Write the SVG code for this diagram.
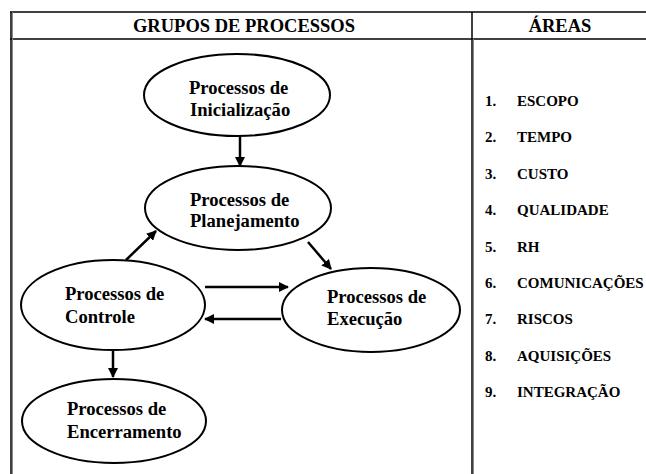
<svg xmlns="http://www.w3.org/2000/svg" width="646" height="474" viewBox="0 0 646 474">
<style>
text{font-family:"Liberation Serif","Times New Roman",Tinos,"DejaVu Serif",serif;font-weight:bold;fill:#000}
.hd{font-size:18.5px;text-anchor:middle}
.nd{font-size:18.6px}
.li{font-size:15px}
.el{fill:#fff;stroke:#000;stroke-width:2}
.tb{stroke:#000;stroke-width:1.5;fill:none}
.cn{stroke:#000;stroke-width:2.5;fill:none}
</style>
<defs>
<marker id="ah" viewBox="0 0 10 10" refX="9" refY="5" markerWidth="4" markerHeight="4" orient="auto" markerUnits="strokeWidth">
<path d="M0,0 L10,5 L0,10 z" fill="#000"/>
</marker>
</defs>
<g id="table">
<line class="tb" x1="10" y1="12" x2="646" y2="12"/>
<line class="tb" x1="10" y1="39" x2="646" y2="39"/>
<line x1="11" y1="12" x2="11" y2="474" stroke="#000" stroke-width="1.5"/>
<line x1="12.5" y1="12" x2="12.5" y2="474" stroke="#888" stroke-width="1"/>
<line x1="472" y1="12" x2="472" y2="474" stroke="#000" stroke-width="1.5"/>
<line x1="473.5" y1="39" x2="473.5" y2="474" stroke="#888" stroke-width="1"/>
<text class="hd" x="244" y="32">GRUPOS DE PROCESSOS</text>
<text class="hd" x="560" y="32">ÁREAS</text>
</g>
<g id="areas">
<text class="li" x="485" y="106">1.</text><text class="li" x="517" y="106">ESCOPO</text>
<text class="li" x="485" y="142">2.</text><text class="li" x="517" y="142">TEMPO</text>
<text class="li" x="485" y="179">3.</text><text class="li" x="517" y="179">CUSTO</text>
<text class="li" x="485" y="215">4.</text><text class="li" x="517" y="215">QUALIDADE</text>
<text class="li" x="485" y="252">5.</text><text class="li" x="517" y="252">RH</text>
<text class="li" x="485" y="288">6.</text><text class="li" x="517" y="288">COMUNICAÇÕES</text>
<text class="li" x="485" y="324">7.</text><text class="li" x="517" y="324">RISCOS</text>
<text class="li" x="485" y="361">8.</text><text class="li" x="517" y="361">AQUISIÇÕES</text>
<text class="li" x="485" y="397">9.</text><text class="li" x="517" y="397">INTEGRAÇÃO</text>
</g>
<g id="connectors">
<line class="cn" x1="240" y1="136" x2="240" y2="166" marker-end="url(#ah)"/>
<line class="cn" x1="126" y1="260" x2="156" y2="231" marker-end="url(#ah)"/>
<line class="cn" x1="308" y1="242" x2="331" y2="269" marker-end="url(#ah)"/>
<line class="cn" x1="205" y1="287" x2="288" y2="287" marker-end="url(#ah)"/>
<line class="cn" x1="281" y1="319" x2="205" y2="319" marker-end="url(#ah)"/>
<line class="cn" x1="113" y1="349" x2="113" y2="377" marker-end="url(#ah)"/>
</g>
<g id="n-inicializacao">
<ellipse class="el" cx="237" cy="95" rx="93" ry="41"/>
<text class="nd" x="189" y="94">Processos de</text>
<text class="nd" x="190" y="116">Inicialização</text>
</g>
<g id="n-planejamento">
<ellipse class="el" cx="238" cy="208" rx="93" ry="42"/>
<text class="nd" x="190" y="206">Processos de</text>
<text class="nd" x="190" y="227">Planejamento</text>
</g>
<g id="n-controle">
<ellipse class="el" cx="113" cy="305" rx="92" ry="45"/>
<text class="nd" x="65" y="300">Processos de</text>
<text class="nd" x="65" y="323">Controle</text>
</g>
<g id="n-execucao">
<ellipse class="el" cx="371" cy="310" rx="89" ry="42"/>
<text class="nd" x="327" y="303">Processos de</text>
<text class="nd" x="327" y="325">Execução</text>
</g>
<g id="n-encerramento">
<ellipse class="el" cx="114" cy="421" rx="92" ry="42"/>
<text class="nd" x="67" y="415">Processos de</text>
<text class="nd" x="67" y="438">Encerramento</text>
</g>
</svg>
